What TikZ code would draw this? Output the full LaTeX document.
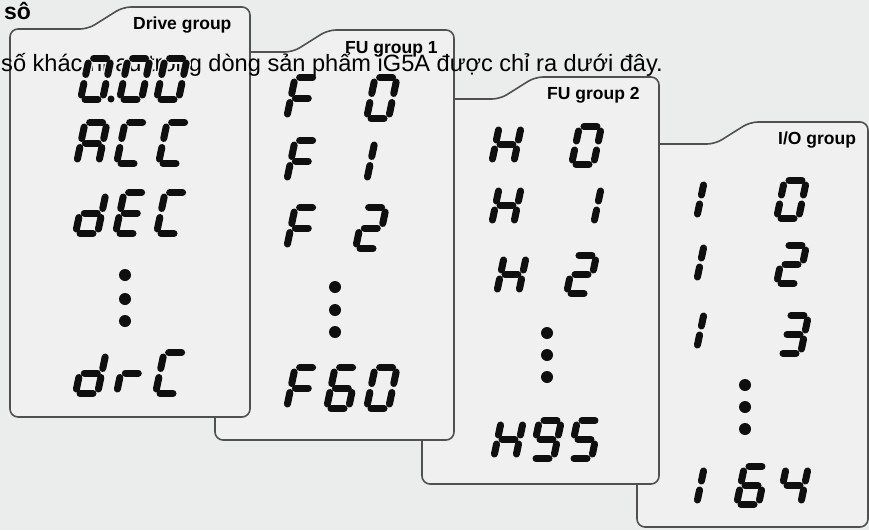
\documentclass[tikz,border=0pt]{standalone}
\usepackage{fontspec}
\setmainfont{Liberation Sans}
\definecolor{bg}{RGB}{235,237,237}
\definecolor{pfill}{RGB}{240,240,240}
\definecolor{pline}{RGB}{80,80,80}
\definecolor{ink}{RGB}{15,15,15}
\tikzset{
  panel/.style={draw=pline, line width=1.6pt, fill=pfill, rounded corners=8pt},
  segl/.style={draw=ink, line width=7pt, line cap=round},
  halo/.style={draw=pfill, line width=10pt, line cap=round},
  grplabel/.style={font=\fontsize{17.5}{20}\selectfont\bfseries, inner sep=0pt, anchor=base west},
  desctext/.style={font=\fontsize{23.6}{28}\selectfont, inner sep=0pt, anchor=base west},
  hdrtext/.style={font=\fontsize{23}{27}\selectfont\bfseries, inner sep=0pt, anchor=base west},
  vdot/.style={fill=ink, draw=none},
}
\def\dw{22}\def\gp{4.5}
\newcommand\sgA{\draw[sst] (\gp,\dh)--({\dw-\gp},\dh);}
\newcommand\sgB{\draw[sst] (\dw,{\dh-\gp})--(\dw,{\dh/2+\gp});}
\newcommand\sgC{\draw[sst] (\dw,{\dh/2-\gp})--(\dw,\gp);}
\newcommand\sgD{\draw[sst] (\gp,0)--({\dw-\gp},0);}
\newcommand\sgE{\draw[sst] (0,\gp)--(0,{\dh/2-\gp});}
\newcommand\sgF{\draw[sst] (0,{\dh/2+\gp})--(0,{\dh-\gp});}
\newcommand\sgG{\draw[sst] (\gp,{\dh/2})--({\dw-\gp},{\dh/2});}
\newcommand\chZero{\sgA\sgB\sgC\sgD\sgE\sgF}
\newcommand\chA{\sgA\sgB\sgC\sgE\sgF\sgG}
\newcommand\chC{\sgA\sgD\sgE\sgF}
\newcommand\chd{\sgB\sgC\sgD\sgE\sgG}
\newcommand\chE{\sgA\sgD\sgE\sgF\sgG}
\newcommand\chr{\sgE\sgG}
\newcommand\chF{\sgA\sgE\sgF\sgG}
\newcommand\chOneL{\sgE\sgF}
\newcommand\chOneR{\sgB\sgC}
\newcommand\chTwo{\sgA\sgB\sgG\sgE\sgD}
\newcommand\chThree{\sgA\sgB\sgG\sgC\sgD}
\newcommand\chFour{\sgF\sgG\sgB\sgC}
\newcommand\chFive{\sgA\sgF\sgG\sgC\sgD}
\newcommand\chSix{\sgA\sgF\sgE\sgD\sgC\sgG}
\newcommand\chNine{\sgA\sgB\sgC\sgD\sgF\sgG}
\newcommand\chH{\sgB\sgC\sgE\sgF\sgG}
% #1 style, #2 x of left, #3 y of bottom (image px), #4 height, #5 char
\newcommand\dig[5][segl]{%
  \begin{scope}[shift={(#2+3.5,#3-3.5)},x={(1pt,0pt)},y={(0.21pt,1pt)},sst/.style={#1}]
    \def\dh{#4}#5
  \end{scope}}
\newcommand\panelshape[4]{%
  \draw[panel] (#1,#4-30) -- (#1,#2+22) -- (#1+78,#2+22) -- (#1+113,#2)
    -- (#3,#2) -- (#3,#4) -- (#1,#4) -- cycle;}
\begin{document}
\begin{tikzpicture}[x=1pt,y=-1pt]
\fill[bg] (0,0) rectangle (869,530);
\useasboundingbox (0,0) rectangle (869,530);

% ---- Panel 4: I/O group
\panelshape{637}{122}{868}{527}
\node[grplabel] (l4) at (778,144) {I/O group};
\dig{693}{222}{38}{\chOneL}\dig{773}{222}{38}{\chZero}
\dig{693}{285}{38}{\chOneL}\dig{773}{287}{38}{\chTwo}
\dig{693}{353}{38}{\chOneL}\dig{775}{357}{38}{\chThree}
\fill[vdot] (745,385) circle (6pt);
\fill[vdot] (745,407) circle (6pt);
\fill[vdot] (745,429) circle (6pt);
\dig{693}{508}{38}{\chOneL}\dig{733}{508}{38}{\chSix}\dig{775}{508}{38}{\chFour}

% ---- Panel 3: FU group 2
\panelshape{422}{77}{659}{484}
\node[grplabel] (l3) at (547,99) {FU group 2};
\dig{488}{167}{38}{\chH}\dig{568}{168}{38}{\chZero}
\dig{488}{228}{38}{\chH}\dig{568}{228}{38}{\chOneR}
\dig{493}{297}{38}{\chH}\dig{563}{297}{38}{\chTwo}
\fill[vdot] (547,333) circle (6pt);
\fill[vdot] (547,355) circle (6pt);
\fill[vdot] (547,377) circle (6pt);
\dig{490}{462}{38}{\chH}\dig{528}{462}{38}{\chNine}\dig{566}{462}{38}{\chFive}

% ---- Panel 2: FU group 1
\panelshape{215}{30}{454}{440}
\node[grplabel] (l2) at (345,53) {FU group 1};
\dig{283}{122}{41}{\chF}\dig{363}{122}{41}{\chZero}
\dig{283}{185}{41}{\chF}\dig{363}{185}{41}{\chOneL}
\dig{283}{252}{41}{\chF}\dig{352}{252}{41}{\chTwo}
\fill[vdot] (335,287) circle (6pt);
\fill[vdot] (335,310) circle (6pt);
\fill[vdot] (335,332) circle (6pt);
\dig{283}{412}{41}{\chF}\dig{323}{412}{41}{\chSix}\dig{363}{412}{41}{\chZero}

% ---- Panel 1: Drive group
\panelshape{10}{7}{250}{417}
\node[grplabel] (l1) at (133,29) {Drive group};
\dig{73}{167}{41}{\chA}\dig{113}{167}{41}{\chC}\dig{155}{167}{41}{\chC}
\dig{72}{237}{41}{\chd}\dig{112}{237}{41}{\chE}\dig{153}{237}{41}{\chC}
\fill[vdot] (125,275) circle (6pt);
\fill[vdot] (125,299) circle (6pt);
\fill[vdot] (125,321) circle (6pt);
\dig{72}{397}{41}{\chd}\dig{113}{397}{41}{\chr}\dig{152}{397}{41}{\chC}

% ---- overlaid text
\node[hdrtext] (hdr) at (4,19) {sô};
\node[desctext] (desc) at (1,71) {số khác nhau trong dòng sản phẩm iG5A được chỉ ra dưới đây.};

% ---- first row of panel 1, drawn over the text
\dig[halo]{77}{103}{41}{\chZero}\dig[halo]{116}{103}{41}{\chZero}\dig[halo]{153}{103}{41}{\chZero}
\dig{77}{103}{41}{\chZero}\dig{116}{103}{41}{\chZero}\dig{153}{103}{41}{\chZero}
\fill[vdot] (111,99) circle (3.5pt);
\end{tikzpicture}
\end{document}
